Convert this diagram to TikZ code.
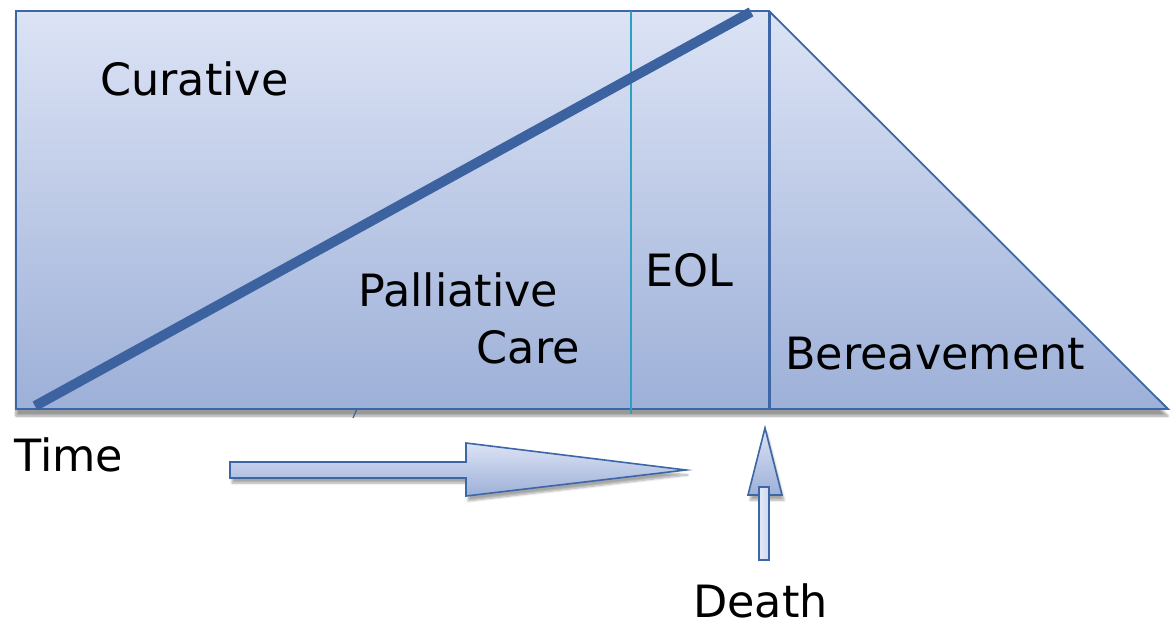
\documentclass[tikz,border=0pt]{standalone}
\usepackage{fontspec}
\setmainfont{DejaVu Sans}
\usetikzlibrary{shadows.blur}
\definecolor{edgeblue}{HTML}{3C66A6}
\definecolor{barblue}{HTML}{3D62A0}
\definecolor{toplight}{HTML}{DCE3F5}
\definecolor{botdark}{HTML}{9DB0D8}
\definecolor{tealline}{HTML}{2CA0C0}
\tikzset{
  panel/.style={draw=edgeblue, line width=1.8pt, top color=toplight, bottom color=botdark,
    blur shadow={shadow xshift=0pt, shadow yshift=-7pt, shadow blur steps=8, shadow opacity=40}},
  arrowshape/.style={draw=edgeblue, line width=1.6pt, top color=toplight, bottom color=botdark, line join=miter,
    blur shadow={shadow xshift=2pt, shadow yshift=-5pt, shadow blur steps=6, shadow opacity=35}},
  shaftshape/.style={draw=edgeblue, line width=1.6pt, left color=toplight!80!white, right color=toplight!80!botdark},
  lbl/.style={font=\fontsize{44.5}{54}\selectfont, text=black, inner sep=0pt, anchor=base west},
}
\begin{document}
\begin{tikzpicture}[x=1pt,y=-1pt]
\useasboundingbox (0,0) rectangle (1171,627);
% main panel
\coordinate (tl) at (16,11);
\coordinate (tm) at (769,11);
\coordinate (br) at (1168,409);
\coordinate (bm) at (769,409);
\coordinate (bl) at (16,409);
\path[panel] (tl) -- (tm) -- (br) -- (bl) -- cycle;
% EOL divider
\coordinate (eolt) at (631,11);
\coordinate (eolb) at (631,414);
\draw[tealline, line width=1.6pt] (eolt) -- (eolb);
% death divider
\draw[edgeblue, line width=3pt] (tm) -- (bm);
% rising bar
\coordinate (bar0) at (35,406);
\coordinate (bar1) at (751,12);
\draw[barblue, line width=10pt] (bar0) -- (bar1);
% small tick
\coordinate (tk0) at (353,418);
\coordinate (tk1) at (357,409);
\draw[edgeblue, line width=1.2pt] (tk0) -- (tk1);
% time arrow
\path[arrowshape] (230,462) -- (466,462) -- (466,443) -- (686,470) -- (466,496) -- (466,478) -- (230,478) -- cycle;
% death arrow
\path[arrowshape] (765,428) -- (782,495) -- (748,495) -- cycle;
\path[shaftshape] (759,487) rectangle (769,560);
% labels
\node[lbl] (cur) at (100,95) {Curative};
\node[lbl] (pal) at (358,306) {Palliative};
\node[lbl, anchor=base east] (care) at (580,363) {Care};
\node[lbl] (eol) at (645,286) {EOL};
\node[lbl] (ber) at (785,369) {Bereavement};
\node[lbl] (time) at (14,471) {Time};
\node[lbl] (death) at (693,617) {Death};
\end{tikzpicture}
\end{document}
